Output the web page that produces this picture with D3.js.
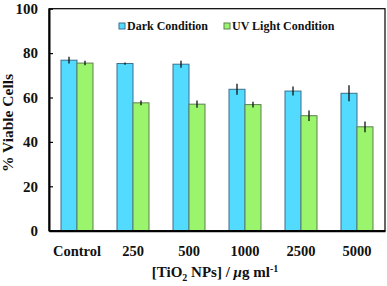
<!DOCTYPE html>
<html>
<head>
<meta charset="utf-8">
<script src="https://cdn.jsdelivr.net/npm/d3@7"></script>
<style>
  body { margin: 0; background: #fff; }
  svg text { font-family: "Liberation Serif", "Times New Roman", "DejaVu Serif", serif; font-weight: bold; }
</style>
</head>
<body>
<div id="vis"></div>
<script>
// chart values
var categories = ['Control', '250', '500', '1000', '2500', '5000'];
var seriesNames = ['Dark Condition', 'UV Light Condition'];
var darkValues = [76.8, 75.3, 75.0, 63.7, 62.9, 61.9];
var darkErrors = [1.5, 0.5, 1.6, 2.5, 2.0, 3.6];
var uvValues = [75.5, 57.6, 57.0, 56.8, 51.8, 46.8];
var uvErrors = [1.0, 1.1, 1.6, 1.3, 2.4, 2.4];
var yTicks = [0, 20, 40, 60, 80, 100];

var width = 387;
var height = 286;
var margin = {top: 8.7, left: 49, bottom: 55.3, right: 2};
var innerW = width - margin.left - margin.right;
var innerH = height - margin.top - margin.bottom;
var serif = '"Liberation Serif", "Times New Roman", "DejaVu Serif", serif';

var colors = ['#52dbff', '#9af46c'];
var strokes = ['#3b6f8c', '#5f7f52'];

var svg = d3.select('#vis').append('svg')
  .attr('width', width)
  .attr('height', height);

var g = svg.append('g')
  .attr('transform', 'translate(' + margin.left + ',' + margin.top + ')');

var x = d3.scaleBand()
  .domain(categories)
  .range([0, innerW]);

var x1 = d3.scaleBand()
  .domain([0, 1])
  .range([12, 44]);

var y = d3.scaleLinear()
  .domain([0, 100])
  .range([innerH, 0]);

// bars
var series = [
  {values: darkValues, errors: darkErrors},
  {values: uvValues, errors: uvErrors}
];

series.forEach(function(s, si) {
  var data = categories.map(function(c, i) {
    return {cat: c, v: s.values[i], e: s.errors[i]};
  });

  g.selectAll('.bar' + si)
    .data(data)
    .enter().append('rect')
    .attr('class', 'bar' + si)
    .attr('x', function(d) { return x(d.cat) + x1(si); })
    .attr('y', function(d) { return y(d.v); })
    .attr('width', x1.bandwidth())
    .attr('height', function(d) { return innerH - y(d.v); })
    .attr('fill', colors[si])
    .attr('stroke', strokes[si])
    .attr('stroke-width', 1);

  g.selectAll('.err' + si)
    .data(data)
    .enter().append('line')
    .attr('class', 'err' + si)
    .attr('x1', function(d) { return x(d.cat) + x1(si) + x1.bandwidth() / 2; })
    .attr('x2', function(d) { return x(d.cat) + x1(si) + x1.bandwidth() / 2; })
    .attr('y1', function(d) { return y(d.v + d.e); })
    .attr('y2', function(d) { return y(d.v - d.e); })
    .attr('stroke', '#111')
    .attr('stroke-width', 1.3);
});

// frame
g.append('rect')
  .attr('x', 0)
  .attr('y', 0)
  .attr('width', innerW)
  .attr('height', innerH)
  .attr('fill', 'none')
  .attr('stroke', '#000')
  .attr('stroke-width', 1.2);

// y axis
var yAxis = d3.axisLeft(y)
  .tickValues(yTicks)
  .tickSize(5)
  .tickSizeOuter(0);

g.append('g')
  .attr('class', 'y axis')
  .call(yAxis)
  .attr('font-family', serif)
  .call(function(a) {
    a.select('.domain').attr('stroke-width', 2);
    a.selectAll('.tick line').attr('stroke-width', 1.2).attr('x2', 4).attr('x1', 0);
    a.selectAll('.tick text')
      .attr('x', -11)
      .style('font-size', '15px')
      .attr('fill', '#111');
  });

// x axis
var xAxis = d3.axisBottom(x)
  .tickSize(0)
  .tickSizeOuter(0);

g.append('g')
  .attr('class', 'x axis')
  .attr('transform', 'translate(0,' + innerH + ')')
  .call(xAxis)
  .attr('font-family', serif)
  .call(function(a) {
    a.select('.domain').attr('stroke-width', 2);
    a.selectAll('.tick text')
      .attr('y', 15)
      .style('font-size', '14.5px')
      .attr('fill', '#111');
  });

// axis titles
svg.append('text')
  .attr('transform', 'translate(13,123) rotate(-90)')
  .attr('text-anchor', 'middle')
  .style('font-size', '15.5px')
  .attr('fill', '#111')
  .text('% Viable Cells');

var xt = svg.append('text')
  .attr('x', 215)
  .attr('y', 277)
  .attr('text-anchor', 'middle')
  .style('font-size', '15px')
  .attr('fill', '#111');
xt.append('tspan').text('[TiO');
xt.append('tspan').attr('dy', 4).style('font-size', '10px').text('2');
xt.append('tspan').attr('dy', -4).text(' NPs] / ');
xt.append('tspan').style('font-style', 'italic').text('μ');
xt.append('tspan').text('g ml');
xt.append('tspan').attr('dy', -5).style('font-size', '10px').text('-1');

// legend
var legendX = [119, 224];
seriesNames.forEach(function(name, i) {
  svg.append('rect')
    .attr('x', legendX[i])
    .attr('y', 23)
    .attr('width', 6)
    .attr('height', 6)
    .attr('fill', colors[i])
    .attr('stroke', strokes[i])
    .attr('stroke-width', 1);
  svg.append('text')
    .attr('x', legendX[i] + 8)
    .attr('y', 30)
    .style('font-size', '12px')
    .attr('fill', '#111')
    .text(name);
});
</script>
</body>
</html>
